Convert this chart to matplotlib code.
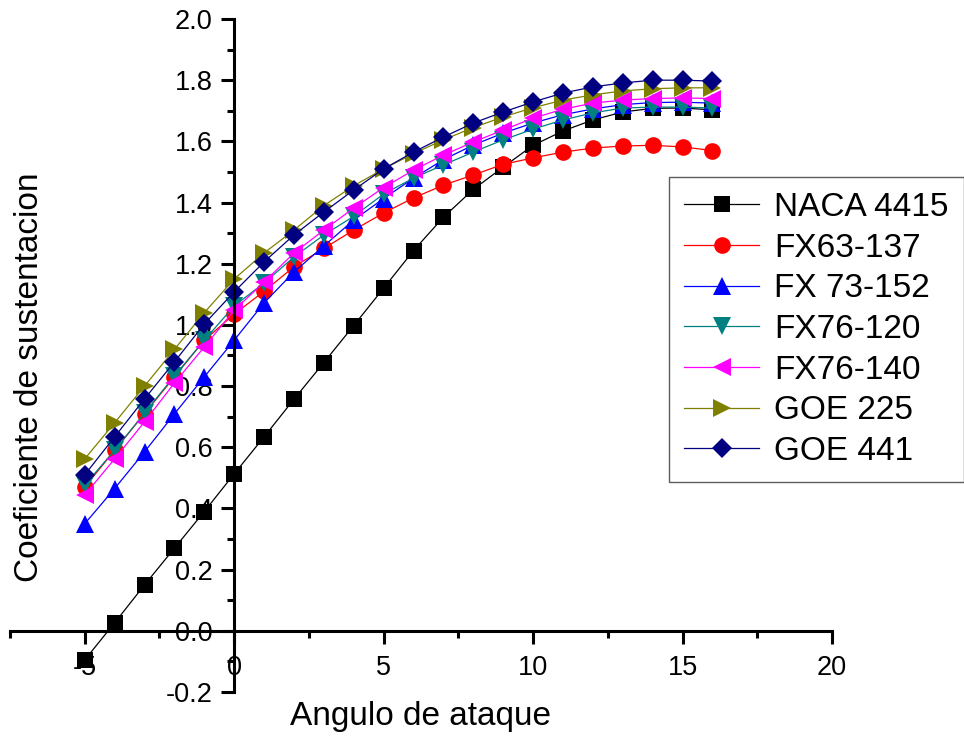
import matplotlib
matplotlib.use("Agg")
import matplotlib.pyplot as plt
from matplotlib.ticker import MultipleLocator, FixedLocator

plt.rcParams['font.family'] = ['Liberation Sans', 'DejaVu Sans']

angles = list(range(-5, 17))

naca_4415 = [-0.095, 0.026, 0.15, 0.27, 0.39, 0.513, 0.634, 0.757, 0.877, 0.998, 1.12,
             1.243, 1.352, 1.443, 1.516, 1.587, 1.634, 1.67, 1.696, 1.708, 1.709, 1.703]
fx63_137 = [0.47, 0.59, 0.71, 0.83, 0.95, 1.035, 1.11, 1.19, 1.25, 1.31, 1.366,
            1.415, 1.457, 1.49, 1.525, 1.546, 1.565, 1.578, 1.585, 1.587, 1.582, 1.57]
fx73_152 = [0.35, 0.465, 0.585, 0.709, 0.83, 0.95, 1.072, 1.173, 1.258, 1.343, 1.413,
            1.48, 1.54, 1.588, 1.627, 1.66, 1.687, 1.706, 1.72, 1.727, 1.728, 1.725]
fx76_120 = [0.477, 0.59, 0.712, 0.833, 0.95, 1.062, 1.137, 1.222, 1.294, 1.355, 1.428,
            1.48, 1.523, 1.565, 1.605, 1.64, 1.67, 1.693, 1.709, 1.712, 1.712, 1.709]
fx76_140 = [0.444, 0.562, 0.683, 0.81, 0.928, 1.048, 1.14, 1.235, 1.31, 1.382, 1.449,
            1.506, 1.555, 1.598, 1.637, 1.676, 1.705, 1.725, 1.735, 1.74, 1.742, 1.74]
goe_225 = [0.562, 0.68, 0.80, 0.92, 1.04, 1.15, 1.235, 1.31, 1.39, 1.455, 1.51,
           1.56, 1.605, 1.645, 1.68, 1.71, 1.735, 1.752, 1.765, 1.772, 1.775, 1.775]
goe_441 = [0.51, 0.634, 0.758, 0.879, 1.003, 1.108, 1.206, 1.294, 1.369, 1.441, 1.51,
           1.565, 1.614, 1.66, 1.696, 1.729, 1.758, 1.778, 1.791, 1.80, 1.80, 1.797]

series_names = ["NACA 4415", "FX63-137", "FX 73-152", "FX76-120", "FX76-140", "GOE 225", "GOE 441"]
series_values = [naca_4415, fx63_137, fx73_152, fx76_120, fx76_140, goe_225, goe_441]
colors = ["#000000", "#FF0000", "#0000FF", "#008080", "#FF00FF", "#808000", "#000080"]
markers = ["s", "o", "^", "v", "<", ">", "D"]
msizes = [11, 12, 13, 13, 13, 13, 10]

fig = plt.figure(figsize=(9.64, 7.38), dpi=100)
ax = fig.add_axes([10/964, 46/738, 822/964, 673/738])

for name, vals, c, m, ms in zip(series_names, series_values, colors, markers, msizes):
    ax.plot(angles, vals, color=c, marker=m, markersize=ms, markeredgewidth=0,
            linewidth=0.9, label=name)

ax.set_xlim(-7.5, 20)
ax.set_ylim(-0.2, 2.0)

ax.spines['left'].set_position(('data', 0))
ax.spines['bottom'].set_position(('data', 0))
ax.spines['top'].set_visible(False)
ax.spines['right'].set_visible(False)
for s in ('left', 'bottom'):
    ax.spines[s].set_linewidth(2.2)

ax.xaxis.set_major_locator(FixedLocator([-5, 0, 5, 10, 15, 20]))
ax.xaxis.set_minor_locator(FixedLocator([-7.5, -2.5, 2.5, 7.5, 12.5, 17.5]))
ax.yaxis.set_major_locator(MultipleLocator(0.2))
ax.yaxis.set_minor_locator(MultipleLocator(0.1))
ax.xaxis.set_major_formatter(matplotlib.ticker.FuncFormatter(lambda v, p: f"{v:g}"))
ax.yaxis.set_major_formatter(matplotlib.ticker.FuncFormatter(lambda v, p: f"{v:.1f}"))

ax.tick_params(which='major', direction='out', length=9.4, width=2.2, labelsize=19.5, pad=8)
ax.tick_params(which='minor', direction='out', length=5, width=2.2)
ax.tick_params(axis='y', which='major', pad=6)

fig.text(420/964, 1 - 716/738, "Angulo de ataque", ha='center', va='center', fontsize=24)
fig.text(30/964, 1 - 377/738, "Coeficiente de sustentacion", ha='center', va='center',
         rotation=90, fontsize=24)

leg = ax.legend(loc='upper left', bbox_to_anchor=(669/964, 1 - 177/738),
                bbox_transform=fig.transFigure, fontsize=24, frameon=True,
                fancybox=False, edgecolor='#333333', handlelength=2.25,
                labelspacing=0.29, borderpad=0.45, handletextpad=0.45, borderaxespad=0)
leg.get_frame().set_linewidth(1.0)

fig.savefig("out.png", dpi=100)
